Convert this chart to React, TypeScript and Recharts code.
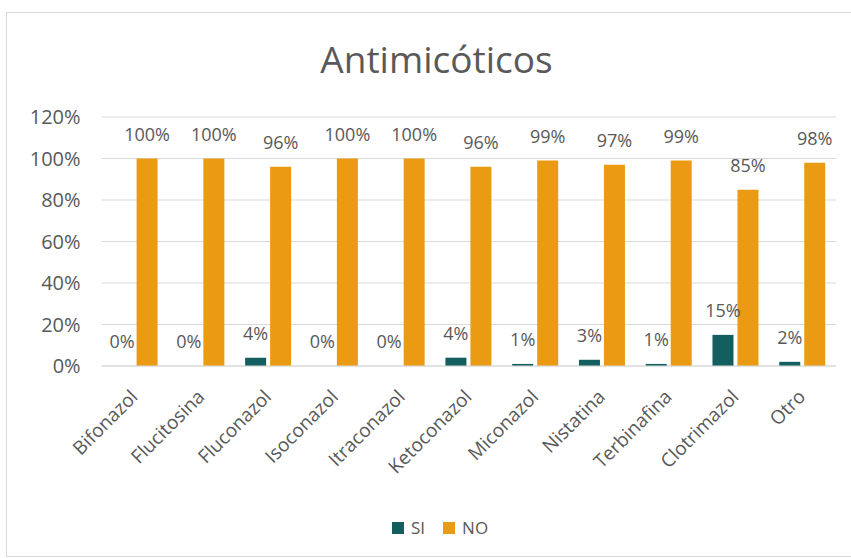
import { BarChart, Bar, XAxis, YAxis, CartesianGrid, Legend, LabelList } from 'recharts';

const categories = [
  'Bifonazol',
  'Flucitosina',
  'Fluconazol',
  'Isoconazol',
  'Itraconazol',
  'Ketoconazol',
  'Miconazol',
  'Nistatina',
  'Terbinafina',
  'Clotrimazol',
  'Otro',
];
const siValues = [0, 0, 4, 0, 0, 4, 1, 3, 1, 15, 2];
const noValues = [100, 100, 96, 100, 100, 96, 99, 97, 99, 85, 98];
const yTicks = [0, 20, 40, 60, 80, 100, 120];
const seriesNames = ['SI', 'NO'];

const data = categories.map((name, i) => ({ name, si: siValues[i], no: noValues[i] }));

const W = 851;
const H = 558;
const FONT = "'Open Sans', sans-serif";
const TEXT = '#595959';
const GRID = '#D9D9D9';
const SI_COLOR = '#135E5E';
const NO_COLOR = '#EB9A13';

const pct = (v: number) => `${v}%`;

// zero-valued bars still need a rect so their "0%" label is placed
const keepZero = (v: number) => (v === 0 ? 0.001 : 0);

// eslint-disable-next-line @typescript-eslint/no-explicit-any
function CategoryTick({ x, y, payload }: any) {
  return (
    <text
      x={0}
      y={0}
      transform={`translate(${x + 4},${y + 32}) rotate(-45)`}
      textAnchor="end"
      fill={TEXT}
      fontSize={19}
      fontFamily={FONT}
    >
      {payload.value}
    </text>
  );
}

// eslint-disable-next-line @typescript-eslint/no-explicit-any
function LegendContent({ payload }: any) {
  const items = [...(payload ?? [])].sort(
    (a: { value: string }, b: { value: string }) => seriesNames.indexOf(a.value) - seriesNames.indexOf(b.value),
  );
  return (
    <div style={{ display: 'flex', alignItems: 'center', fontFamily: FONT, fontSize: 17, color: TEXT }}>
      {items.map((p: { value: string; color: string }, i: number) => (
        <div key={i} style={{ display: 'flex', alignItems: 'center', marginRight: 18 }}>
          <span style={{ width: 12, height: 12, background: p.color, marginRight: 7, display: 'inline-block' }} />
          <span>{p.value}</span>
        </div>
      ))}
    </div>
  );
}

export default function App() {
  return (
    <div
      style={{
        position: 'absolute',
        left: 0,
        top: 0,
        width: W,
        height: H,
        overflow: 'hidden',
        background: '#fff',
        fontFamily: FONT,
      }}
    >
      <div
        style={{
          position: 'absolute',
          left: 6,
          top: 12,
          width: 900,
          height: 543,
          border: `1px solid ${GRID}`,
        }}
      />
      <div
        style={{
          position: 'absolute',
          left: 0,
          top: 33,
          width: 873,
          textAlign: 'center',
          fontSize: 37,
          lineHeight: 'normal',
          color: TEXT,
        }}
      >
        Antimicóticos
      </div>
      <BarChart
        width={W}
        height={H}
        data={data}
        margin={{ top: 117, right: 15, bottom: 72, left: 0 }}
        barSize={21}
        barGap={4}
        style={{ position: 'absolute', left: 0, top: 0 }}
      >
        <CartesianGrid vertical={false} stroke={GRID} />
        <XAxis
          dataKey="name"
          height={120}
          interval={0}
          axisLine={{ stroke: GRID }}
          tickLine={false}
          tickSize={0}
          tickMargin={0}
          tick={<CategoryTick />}
        />
        <YAxis
          width={101.6}
          domain={[0, 120]}
          ticks={yTicks}
          axisLine={false}
          tickLine={false}
          tickSize={0}
          tickMargin={21}
          tick={{ fill: TEXT, fontSize: 20, fontFamily: FONT }}
          tickFormatter={pct}
        />
        <Legend
          verticalAlign="middle"
          content={<LegendContent />}
          wrapperStyle={{ left: 392, top: 516, width: 'auto' }}
        />
        <Bar dataKey="si" name="SI" fill={SI_COLOR} minPointSize={keepZero} isAnimationActive={false}>
          <LabelList dataKey="si" position="top" offset={18} fill={TEXT} fontSize={18} fontFamily={FONT} formatter={pct} />
        </Bar>
        <Bar dataKey="no" name="NO" fill={NO_COLOR} isAnimationActive={false}>
          <LabelList dataKey="no" position="top" offset={18} fill={TEXT} fontSize={18} fontFamily={FONT} formatter={pct} />
        </Bar>
      </BarChart>
    </div>
  );
}
